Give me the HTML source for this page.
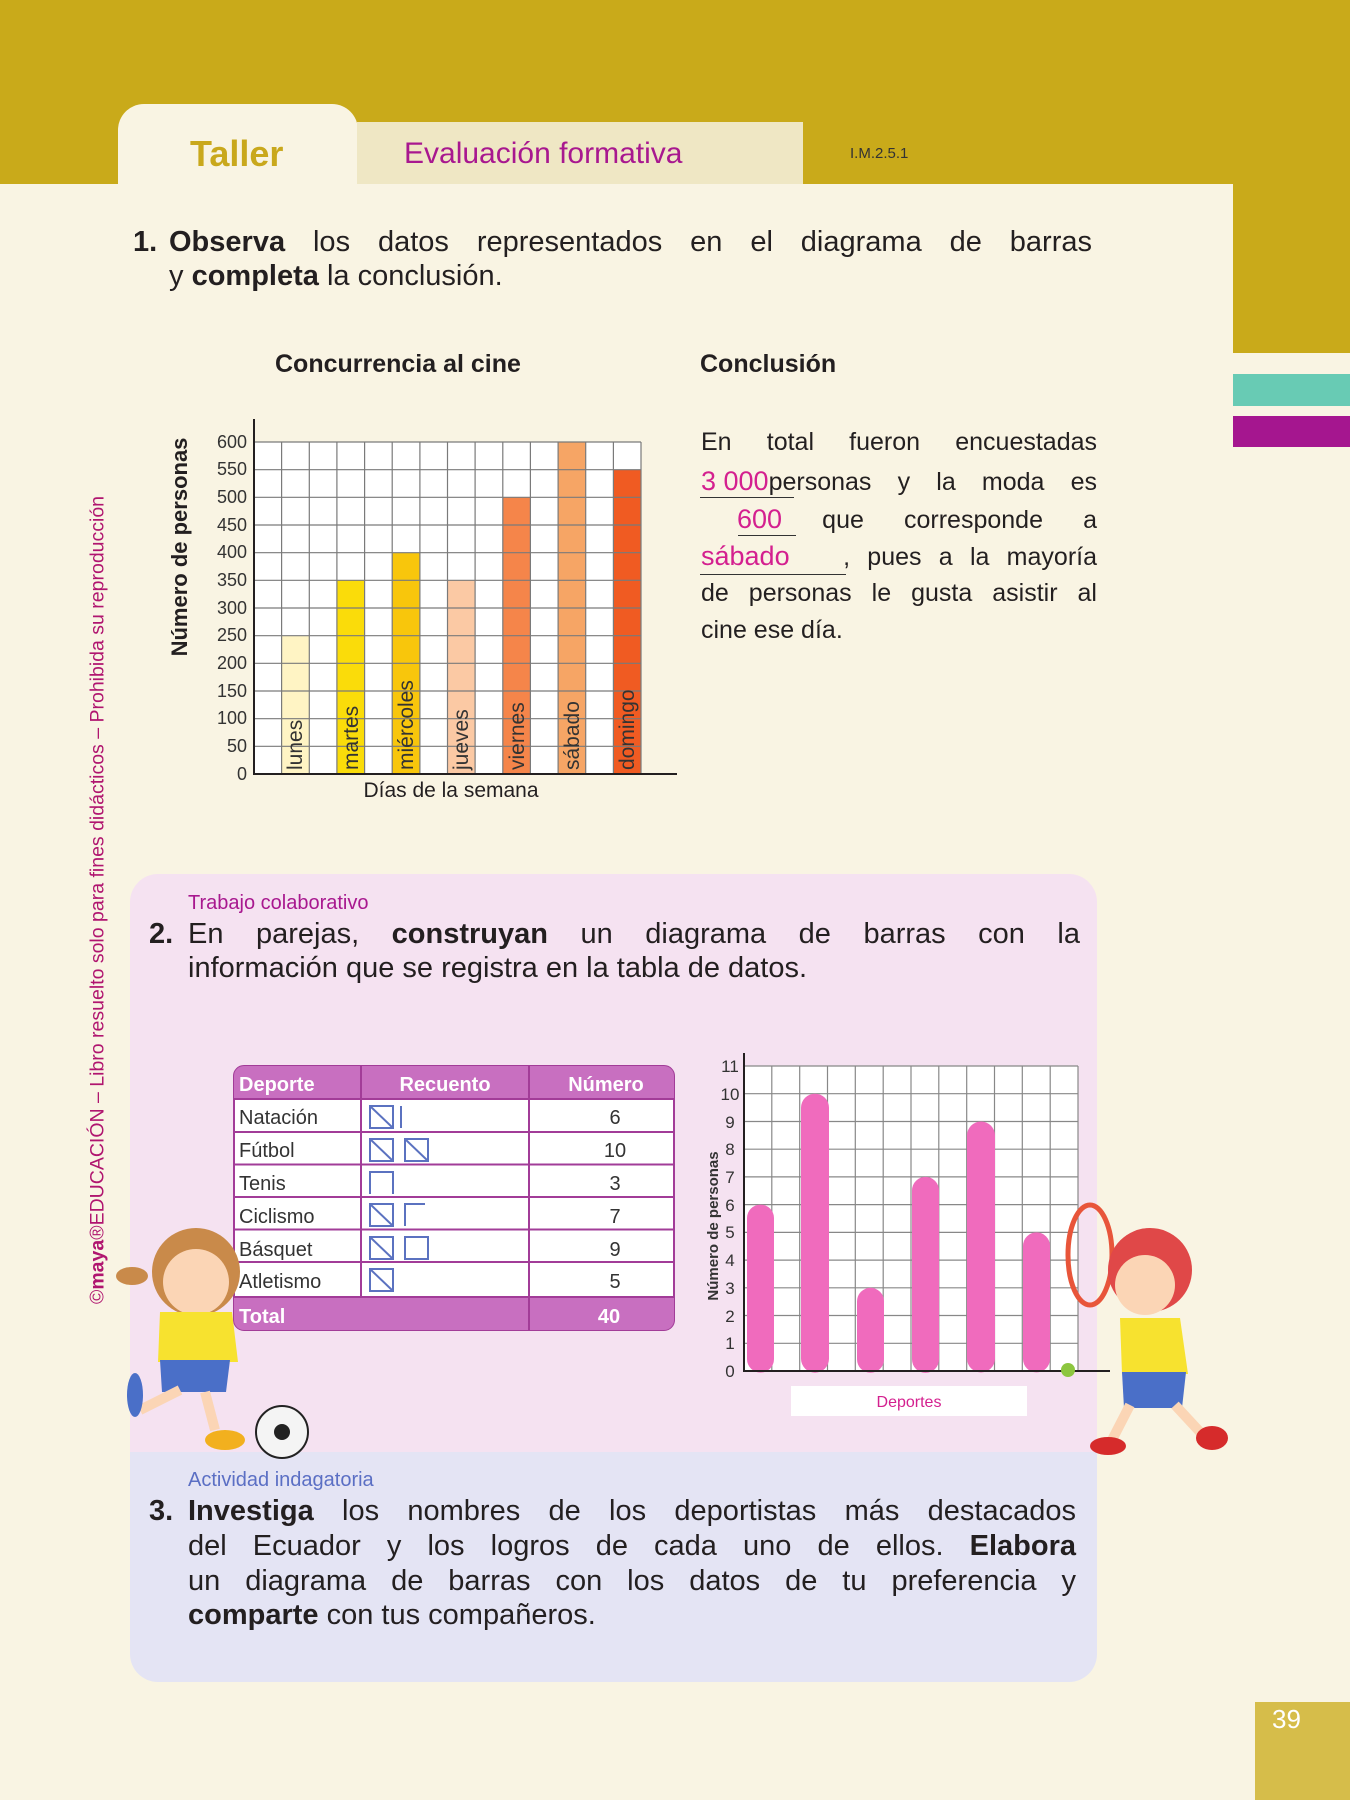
<!DOCTYPE html>
<html><head><meta charset="utf-8"><style>
*{margin:0;padding:0;box-sizing:border-box}
body{width:1350px;height:1800px;position:relative;overflow:hidden;background:#f9f4e3;font-family:"Liberation Sans",sans-serif;color:#231f20}
.a{position:absolute;white-space:nowrap}
.j{position:absolute;text-align:justify;text-align-last:justify;white-space:nowrap}
b{font-weight:bold}
.pk{color:#d4208f}
</style></head><body>
<div class="a" style="left:0;top:0;width:1350px;height:184px;background:#c9aa1a"></div>
<div class="a" style="left:1233px;top:0;width:117px;height:353px;background:#c9aa1a"></div>
<div class="a" style="left:1233px;top:374px;width:117px;height:32px;background:#68cbb4"></div>
<div class="a" style="left:1233px;top:416px;width:117px;height:31px;background:#a5168f"></div>
<div class="a" style="left:118px;top:104px;width:240px;height:82px;background:#f9f4e3;border-radius:26px 26px 0 0"></div>
<div class="a" style="left:357px;top:122px;width:446px;height:62px;background:#efe7c4"></div>
<div class="a" style="left:190px;top:133px;font-size:36px;font-weight:bold;color:#c9a81c">Taller</div>
<div class="a" style="left:404px;top:137px;font-size:30px;color:#a8188f">Evaluación formativa</div>
<div class="a" style="left:850px;top:145px;font-size:15px;color:#333">I.M.2.5.1</div>
<div class="a" style="left:98px;top:900px;transform:translate(-50%,-50%) rotate(-90deg);font-size:19.5px;color:#b0156f">©<b>maya</b>®EDUCACIÓN – Libro resuelto solo para fines didácticos – Prohibida su reproducción</div>
<div class="a" style="left:133px;top:226px;font-size:29px"><b>1.</b></div>
<div class="j" style="left:169px;top:226px;width:923px;font-size:29px"><b>Observa</b> los datos representados en el diagrama de barras</div>
<div class="a" style="left:169px;top:260px;font-size:29px">y <b>completa</b> la conclusión.</div>
<div class="a" style="left:275px;top:350px;font-size:25px;font-weight:bold">Concurrencia al cine</div>
<div class="a" style="left:700px;top:350px;font-size:25px;font-weight:bold">Conclusión</div>
<div class="j" style="left:701px;top:428px;width:396px;font-size:25px">En total fueron encuestadas</div>
<div class="j" style="left:701px;top:466px;width:396px;font-size:25px"><span class="pk" style="font-size:27px;display:inline-block">3 000</span>personas y la moda es</div>
<div class="a" style="left:700px;top:497px;width:94px;border-bottom:1px solid #333"></div>
<div class="j" style="left:701px;top:504px;width:396px;font-size:25px"><span class="pk" style="font-size:27px;padding-left:36px">600</span> que corresponde a</div>
<div class="a" style="left:738px;top:535px;width:58px;border-bottom:1px solid #333"></div>
<div class="j" style="left:701px;top:541px;width:396px;font-size:25px"><span class="pk" style="font-size:27px">sábado&nbsp;&nbsp;&nbsp;</span>, pues a la mayoría</div>
<div class="a" style="left:700px;top:574px;width:146px;border-bottom:1px solid #333"></div>
<div class="j" style="left:701px;top:579px;width:396px;font-size:25px">de personas le gusta asistir al</div>
<div class="a" style="left:701px;top:616px;font-size:25px">cine ese día.</div>
<div class="a" style="left:130px;top:874px;width:967px;height:578px;background:#f5e2f1;border-radius:28px 28px 0 0"></div>
<div class="a" style="left:130px;top:1452px;width:967px;height:230px;background:#e4e4f4;border-radius:0 0 28px 28px"></div>
<div class="a" style="left:1255px;top:1702px;width:95px;height:98px;background:#d6bd4a"></div>
<div class="a" style="left:1272px;top:1704px;font-size:26px;color:#fff">39</div>
<div class="a" style="left:188px;top:892px;font-size:20px;color:#a8188f">Trabajo colaborativo</div>
<div class="a" style="left:149px;top:918px;font-size:29px"><b>2.</b></div>
<div class="j" style="left:188px;top:918px;width:892px;font-size:29px">En parejas, <b>construyan</b> un diagrama de barras con la</div>
<div class="a" style="left:188px;top:952px;font-size:29px">información que se registra en la tabla de datos.</div>
<div class="a" style="left:188px;top:1469px;font-size:20px;color:#5b6fc4">Actividad indagatoria</div>
<div class="a" style="left:149px;top:1495px;font-size:29px"><b>3.</b></div>
<div class="j" style="left:188px;top:1495px;width:888px;font-size:29px"><b>Investiga</b> los nombres de los deportistas más destacados</div>
<div class="j" style="left:188px;top:1530px;width:888px;font-size:29px">del Ecuador y los logros de cada uno de ellos. <b>Elabora</b></div>
<div class="j" style="left:188px;top:1565px;width:888px;font-size:29px">un diagrama de barras con los datos de tu preferencia y</div>
<div class="a" style="left:188px;top:1599px;font-size:29px"><b>comparte</b> con tus compañeros.</div>

<svg class="a" style="left:0;top:0" width="1350" height="1800" font-family="Liberation Sans, sans-serif">
<g>
<rect x="254" y="442" width="387" height="332" fill="#fff"/>
<rect x="281.6" y="635.6" width="27.6" height="138.4" fill="#fff4c4"/>
<rect x="336.9" y="580.3" width="27.6" height="193.7" fill="#fadc0a"/>
<rect x="392.2" y="552.6" width="27.6" height="221.4" fill="#f8c60c"/>
<rect x="447.5" y="580.3" width="27.6" height="193.7" fill="#fbc9a4"/>
<rect x="502.8" y="497.3" width="27.6" height="276.7" fill="#f5854a"/>
<rect x="558.1" y="442" width="27.6" height="332" fill="#f6a565"/>
<rect x="613.4" y="469.7" width="27.6" height="304.3" fill="#f05b22"/>
<g stroke="#7a7a7a" stroke-width="1.2">
<line x1="254" y1="442" x2="641" y2="442"/><line x1="254" y1="469.7" x2="641" y2="469.7"/><line x1="254" y1="497.3" x2="641" y2="497.3"/><line x1="254" y1="525" x2="641" y2="525"/><line x1="254" y1="552.7" x2="641" y2="552.7"/><line x1="254" y1="580.3" x2="641" y2="580.3"/><line x1="254" y1="608" x2="641" y2="608"/><line x1="254" y1="635.7" x2="641" y2="635.7"/><line x1="254" y1="663.3" x2="641" y2="663.3"/><line x1="254" y1="691" x2="641" y2="691"/><line x1="254" y1="718.7" x2="641" y2="718.7"/><line x1="254" y1="746.3" x2="641" y2="746.3"/>
<line x1="281.6" y1="442" x2="281.6" y2="774"/><line x1="309.3" y1="442" x2="309.3" y2="774"/><line x1="336.9" y1="442" x2="336.9" y2="774"/><line x1="364.6" y1="442" x2="364.6" y2="774"/><line x1="392.2" y1="442" x2="392.2" y2="774"/><line x1="419.9" y1="442" x2="419.9" y2="774"/><line x1="447.5" y1="442" x2="447.5" y2="774"/><line x1="475.1" y1="442" x2="475.1" y2="774"/><line x1="502.8" y1="442" x2="502.8" y2="774"/><line x1="530.4" y1="442" x2="530.4" y2="774"/><line x1="558.1" y1="442" x2="558.1" y2="774"/><line x1="585.7" y1="442" x2="585.7" y2="774"/><line x1="613.4" y1="442" x2="613.4" y2="774"/><line x1="641" y1="442" x2="641" y2="774"/>
</g>
<g stroke="#231f20" stroke-width="2"><line x1="254" y1="419" x2="254" y2="775"/><line x1="253" y1="774" x2="677" y2="774"/></g>
<g font-size="18" fill="#333" text-anchor="end">
<text x="247" y="780">0</text><text x="247" y="752">50</text><text x="247" y="724">100</text><text x="247" y="697">150</text><text x="247" y="669">200</text><text x="247" y="641">250</text><text x="247" y="614">300</text><text x="247" y="586">350</text><text x="247" y="558">400</text><text x="247" y="531">450</text><text x="247" y="503">500</text><text x="247" y="475">550</text><text x="247" y="448">600</text>
</g>
<text transform="translate(187,547) rotate(-90)" text-anchor="middle" font-size="22" font-weight="bold" fill="#231f20">Número de personas</text>
<text x="451" y="797" text-anchor="middle" font-size="21" fill="#231f20">Días de la semana</text>
<g font-size="21" fill="#333">
<text transform="translate(302,770) rotate(-90)">lunes</text>
<text transform="translate(358,770) rotate(-90)">martes</text>
<text transform="translate(413,770) rotate(-90)">miércoles</text>
<text transform="translate(468,770) rotate(-90)">jueves</text>
<text transform="translate(524,770) rotate(-90)">viernes</text>
<text transform="translate(579,770) rotate(-90)">sábado</text>
<text transform="translate(634,770) rotate(-90)">domingo</text>
</g>
</g>
<g>
<rect x="234" y="1066" width="440" height="264" rx="10" fill="#fff" stroke="#a23c98" stroke-width="2"/>
<path d="M234 1076 a10 10 0 0 1 10 -10 h420 a10 10 0 0 1 10 10 v23 h-440z" fill="#c86fc0"/>
<path d="M234 1297.5 h440 v22.5 a10 10 0 0 1 -10 10 h-420 a10 10 0 0 1 -10 -10z" fill="#c86fc0"/>
<g stroke="#a23c98" stroke-width="2"><line x1="234" y1="1099" x2="674" y2="1099"/><line x1="234" y1="1132" x2="674" y2="1132"/><line x1="234" y1="1164.5" x2="674" y2="1164.5"/><line x1="234" y1="1197" x2="674" y2="1197"/><line x1="234" y1="1229.5" x2="674" y2="1229.5"/><line x1="234" y1="1262" x2="674" y2="1262"/><line x1="234" y1="1297" x2="674" y2="1297"/><line x1="361" y1="1066" x2="361" y2="1297"/><line x1="529" y1="1066" x2="529" y2="1330"/></g>
<g font-size="20" font-weight="bold" fill="#fff"><text x="239" y="1091">Deporte</text><text x="445" y="1091" text-anchor="middle">Recuento</text><text x="606" y="1091" text-anchor="middle">Número</text><text x="239" y="1323">Total</text><text x="609" y="1323" text-anchor="middle">40</text></g>
<g font-size="20" fill="#333"><text x="239" y="1124">Natación</text><text x="239" y="1157">Fútbol</text><text x="239" y="1190">Tenis</text><text x="239" y="1223">Ciclismo</text><text x="239" y="1256">Básquet</text><text x="239" y="1288">Atletismo</text>
<text x="615" y="1124" text-anchor="middle">6</text><text x="615" y="1157" text-anchor="middle">10</text><text x="615" y="1190" text-anchor="middle">3</text><text x="615" y="1223" text-anchor="middle">7</text><text x="615" y="1256" text-anchor="middle">9</text><text x="615" y="1288" text-anchor="middle">5</text></g>
<g stroke="#5b72c0" stroke-width="2" fill="none">
<rect x="370" y="1106" width="23" height="22"/><line x1="370" y1="1106" x2="393" y2="1128"/><line x1="401" y1="1106" x2="401" y2="1128"/>
<rect x="370" y="1139" width="23" height="22"/><line x1="370" y1="1139" x2="393" y2="1161"/><rect x="405" y="1139" width="23" height="22"/><line x1="405" y1="1139" x2="428" y2="1161"/>
<path d="M370 1194 v-22 h23 v22"/>
<rect x="370" y="1204" width="23" height="22"/><line x1="370" y1="1204" x2="393" y2="1226"/><path d="M405 1226 v-22 h20"/>
<rect x="370" y="1237" width="23" height="22"/><line x1="370" y1="1237" x2="393" y2="1259"/><rect x="405" y="1237" width="23" height="22"/>
<rect x="370" y="1269" width="23" height="22"/><line x1="370" y1="1269" x2="393" y2="1291"/>
</g>
</g>
<g>
<rect x="744" y="1066" width="334" height="305" fill="#fff"/>
<g stroke="#888" stroke-width="1.2">
<line x1="744" y1="1066" x2="1078" y2="1066"/><line x1="744" y1="1093.7" x2="1078" y2="1093.7"/><line x1="744" y1="1121.5" x2="1078" y2="1121.5"/><line x1="744" y1="1149.2" x2="1078" y2="1149.2"/><line x1="744" y1="1176.9" x2="1078" y2="1176.9"/><line x1="744" y1="1204.6" x2="1078" y2="1204.6"/><line x1="744" y1="1232.4" x2="1078" y2="1232.4"/><line x1="744" y1="1260.1" x2="1078" y2="1260.1"/><line x1="744" y1="1287.8" x2="1078" y2="1287.8"/><line x1="744" y1="1315.5" x2="1078" y2="1315.5"/><line x1="744" y1="1343.3" x2="1078" y2="1343.3"/>
<line x1="771.8" y1="1066" x2="771.8" y2="1371"/><line x1="799.7" y1="1066" x2="799.7" y2="1371"/><line x1="827.5" y1="1066" x2="827.5" y2="1371"/><line x1="855.3" y1="1066" x2="855.3" y2="1371"/><line x1="883.2" y1="1066" x2="883.2" y2="1371"/><line x1="911" y1="1066" x2="911" y2="1371"/><line x1="938.8" y1="1066" x2="938.8" y2="1371"/><line x1="966.7" y1="1066" x2="966.7" y2="1371"/><line x1="994.5" y1="1066" x2="994.5" y2="1371"/><line x1="1022.3" y1="1066" x2="1022.3" y2="1371"/><line x1="1050.2" y1="1066" x2="1050.2" y2="1371"/><line x1="1078" y1="1066" x2="1078" y2="1371"/>
</g>
<g fill="#f06bbd">
<rect x="747" y="1204.6" width="27" height="168" rx="13.5"/>
<rect x="801" y="1093.7" width="28" height="279" rx="14"/>
<rect x="857" y="1287.8" width="27" height="85" rx="13.5"/>
<rect x="912" y="1176.9" width="27" height="196" rx="13.5"/>
<rect x="967" y="1121.5" width="28" height="251" rx="14"/>
<rect x="1023" y="1232.4" width="27" height="140" rx="13.5"/>
</g>
<g stroke="#231f20" stroke-width="2"><line x1="744" y1="1053" x2="744" y2="1372"/><line x1="743" y1="1371" x2="1110" y2="1371"/></g>
<circle cx="1068" cy="1370" r="7" fill="#8cc63f"/>
<g font-size="17" fill="#333" text-anchor="middle">
<text x="730" y="1377">0</text><text x="730" y="1349">1</text><text x="730" y="1322">2</text><text x="730" y="1294">3</text><text x="730" y="1266">4</text><text x="730" y="1238">5</text><text x="730" y="1211">6</text><text x="730" y="1183">7</text><text x="730" y="1155">8</text><text x="730" y="1128">9</text><text x="730" y="1100">10</text><text x="730" y="1072">11</text>
</g>
<text transform="translate(718,1226) rotate(-90)" text-anchor="middle" font-size="15" font-weight="bold" fill="#333">Número de personas</text>
<rect x="791" y="1386" width="236" height="30" fill="#fff"/>
<text x="909" y="1407" text-anchor="middle" font-size="16" fill="#d4208f">Deportes</text>
</g>
<g>
<circle cx="196" cy="1272" r="44" fill="#c98a4a"/>
<circle cx="196" cy="1282" r="33" fill="#fbd5b5"/>
<ellipse cx="132" cy="1276" rx="16" ry="9" fill="#c98a4a"/>
<path d="M160 1312 h72 l6 50 h-80z" fill="#f7e22f"/>
<path d="M160 1360 h70 l-4 32 h-64z" fill="#4a6fc8"/>
<line x1="180" y1="1390" x2="140" y2="1410" stroke="#fbd5b5" stroke-width="10"/>
<line x1="205" y1="1392" x2="215" y2="1430" stroke="#fbd5b5" stroke-width="10"/>
<ellipse cx="225" cy="1440" rx="20" ry="10" fill="#f2b01e"/>
<ellipse cx="135" cy="1395" rx="8" ry="22" fill="#4a6fc8"/>
<circle cx="282" cy="1432" r="26" fill="#f4f4f4" stroke="#222" stroke-width="2"/>
<circle cx="282" cy="1432" r="8" fill="#222"/>
</g>
<g>
<ellipse cx="1090" cy="1255" rx="22" ry="50" fill="none" stroke="#e8553a" stroke-width="5"/>
<circle cx="1150" cy="1270" r="42" fill="#e04848"/>
<circle cx="1145" cy="1285" r="30" fill="#fbd5b5"/>
<path d="M1120 1318 h60 l8 56 h-66z" fill="#f7e22f"/>
<path d="M1122 1372 h64 l-4 36 h-58z" fill="#4a6fc8"/>
<line x1="1130" y1="1405" x2="1112" y2="1440" stroke="#fbd5b5" stroke-width="10"/>
<line x1="1175" y1="1405" x2="1200" y2="1432" stroke="#fbd5b5" stroke-width="10"/>
<ellipse cx="1108" cy="1446" rx="18" ry="9" fill="#d62b2b"/>
<ellipse cx="1212" cy="1438" rx="16" ry="12" fill="#d62b2b"/>
</g>
</svg>
</body></html>
